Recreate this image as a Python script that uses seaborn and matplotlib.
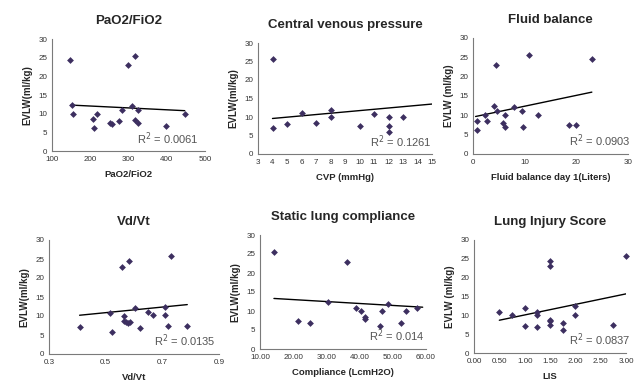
import matplotlib
matplotlib.use("Agg")
import matplotlib.pyplot as plt
import seaborn as sns
import numpy as np

# ---- data ----
pao2 = [148, 152, 155, 208, 211, 218, 252, 256, 276, 283, 298, 308, 317, 317, 325, 325, 397, 449]
pao2_evlw = [24.5, 12.3, 10.0, 8.7, 6.2, 10.0, 7.6, 7.1, 8.0, 11.0, 23.0, 12.0, 25.5, 8.4, 11.0, 7.6, 6.7, 10.0]
pao2_trend_x = [150, 447]
pao2_trend_y = [12.3, 10.8]

cvp = [4, 4, 5, 6, 7, 8, 8, 10, 11, 12, 12, 12, 13]
cvp_evlw = [25.6, 7.0, 8.1, 11.0, 8.5, 12.0, 10.0, 7.6, 10.8, 10.0, 7.5, 6.0, 10.0]
cvp_trend_x = [4, 15]
cvp_trend_y = [9.6, 13.5]

fluid = [0.8, 0.8, 2.4, 2.7, 4.1, 4.4, 4.7, 5.9, 6.2, 6.2, 8.0, 9.5, 9.6, 10.9, 12.5, 18.5, 20.0, 23.0]
fluid_evlw = [8.5, 6.1, 10.1, 8.6, 12.3, 23.1, 11.1, 8.1, 10.1, 7.1, 12.2, 11.0, 6.9, 25.7, 10.1, 7.5, 7.5, 24.5]
fluid_trend_x = [0.5, 23.0]
fluid_trend_y = [9.7, 16.0]

vdvt = [0.408, 0.514, 0.523, 0.556, 0.565, 0.566, 0.572, 0.579, 0.585, 0.584, 0.602, 0.621,
        0.651, 0.668, 0.709, 0.709, 0.720, 0.729, 0.788]
vdvt_evlw = [7.1, 10.9, 5.9, 23.0, 10.1, 8.8, 8.4, 8.2, 8.3, 24.4, 12.1, 6.8,
             11.1, 10.2, 12.3, 10.2, 7.5, 25.8, 7.5]
vdvt_trend_x = [0.408, 0.788]
vdvt_trend_y = [10.2, 13.0]

compl = [14.2, 21.4, 25.1, 30.5, 36.2, 38.8, 40.3, 41.6, 41.7, 46.0, 46.7, 48.5, 52.5, 54.0, 57.3]
compl_evlw = [25.4, 7.5, 6.8, 12.3, 22.9, 10.7, 10.0, 8.5, 8.0, 6.0, 10.0, 11.9, 6.9, 9.9, 10.8]
compl_trend_x = [14.2, 59.0]
compl_trend_y = [13.3, 11.0]

lis = [0.5, 0.75, 1.0, 1.0, 1.25, 1.25, 1.25, 1.5, 1.5, 1.5, 1.5, 1.5, 1.75, 1.75, 2.0, 2.0, 2.75, 3.0]
lis_evlw = [11.0, 10.0, 12.0, 7.1, 11.0, 10.0, 6.8, 24.5, 23.0, 8.8, 8.5, 7.5, 8.0, 6.1, 12.5, 10.0, 7.5, 25.7]
lis_trend_x = [0.5, 3.0]
lis_trend_y = [8.7, 15.7]

titles = ["PaO2/FiO2", "Central venous pressure", "Fluid balance",
          "Vd/Vt", "Static lung compliance", "Lung Injury Score"]
xlabels = ["PaO2/FiO2", "CVP (mmHg)", "Fluid balance day 1(Liters)",
           "Vd/Vt", "Compliance (LcmH2O)", "LIS"]
ylabels = ["EVLW(ml/kg)", "EVLW(ml/kg)", "EVLW (ml/kg)",
           "EVLW(ml/kg)", "EVLW(ml/kg)", "EVLW (ml/kg)"]
r2_labels = ["0.0061", "0.1261", "0.0903", "0.0135", "0.014", "0.0837"]

xticks = [
    [100, 200, 300, 400, 500],
    list(range(3, 16)),
    [0, 10, 20, 30],
    [0.3, 0.5, 0.7, 0.9],
    [10, 20, 30, 40, 50, 60],
    [0, 0.5, 1.0, 1.5, 2.0, 2.5, 3.0],
]
xtick_fmt = ["{:.0f}", "{:.0f}", "{:.0f}", "{:.1f}", "{:.2f}", "{:.2f}"]
yticks = [0, 5, 10, 15, 20, 25, 30]

panels = [
    (pao2, pao2_evlw, pao2_trend_x, pao2_trend_y),
    (cvp, cvp_evlw, cvp_trend_x, cvp_trend_y),
    (fluid, fluid_evlw, fluid_trend_x, fluid_trend_y),
    (vdvt, vdvt_evlw, vdvt_trend_x, vdvt_trend_y),
    (compl, compl_evlw, compl_trend_x, compl_trend_y),
    (lis, lis_evlw, lis_trend_x, lis_trend_y),
]

# axes boxes in pixels: left, right, top, bottom (639 x 385 canvas)
boxes = [
    (52, 205, 39, 151),
    (258, 432, 43, 154),
    (473, 628, 38, 154),
    (49, 219, 240, 354),
    (260, 426, 235, 349),
    (474, 626, 240, 353),
]
r2_x = [0.96, 1.0, 1.02, 0.98, 0.99, 1.03]

sns.set_style("white")
plt.rcParams["font.family"] = ["Liberation Sans", "DejaVu Sans"]

W, H = 639, 385
fig = plt.figure(figsize=(W / 100, H / 100), dpi=100)

axis_col = "#7a7a7a"
point_col = "#3d2f60"

for i, (xs, ys, tx, ty) in enumerate(panels):
    l, r, t, b = boxes[i]
    ax = fig.add_axes([l / W, 1 - b / H, (r - l) / W, (b - t) / H])

    sns.scatterplot(x=xs, y=ys, ax=ax, marker="D", s=12, color=point_col,
                    edgecolor=point_col, linewidth=0, zorder=3, clip_on=False)
    sns.lineplot(x=tx, y=ty, ax=ax, color="black", linewidth=1.0, zorder=2)

    ax.set_xlim(xticks[i][0], xticks[i][-1])
    ax.set_ylim(0, 30)
    ax.set_xticks(xticks[i])
    ax.set_xticklabels([xtick_fmt[i].format(v) for v in xticks[i]])
    ax.set_yticks(yticks)

    for side in ["top", "right"]:
        ax.spines[side].set_visible(False)
    for side in ["left", "bottom"]:
        ax.spines[side].set_color(axis_col)
        ax.spines[side].set_linewidth(0.8)

    ax.tick_params(axis="both", direction="inout", length=3, width=0.7,
                   color=axis_col, labelsize=5.8, labelcolor="#333333", pad=2)

    ax.set_title(titles[i], fontsize=9.5, fontweight="bold", pad=11)
    ax.set_xlabel(xlabels[i], fontsize=6.8, fontweight="bold", labelpad=5)
    ax.set_ylabel(ylabels[i], fontsize=7.0, fontweight="bold", labelpad=4)

    ax.text(r2_x[i], 0.04, "R$^2$ = " + r2_labels[i], transform=ax.transAxes,
            ha="right", va="bottom", fontsize=8, color="#555555")

fig.savefig("out.png", dpi=100)
